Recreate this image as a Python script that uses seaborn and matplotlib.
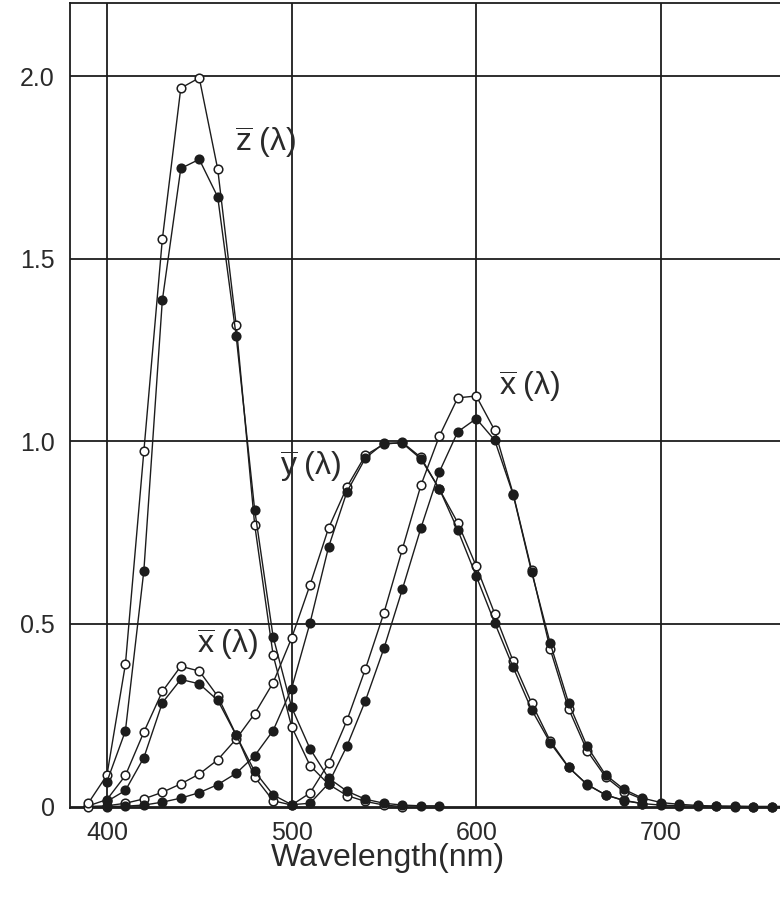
import matplotlib
matplotlib.use("Agg")
import matplotlib.pyplot as plt
import numpy as np
import pandas as pd
import seaborn as sns

# ---- data (CIE colour-matching functions) ----
# open circles: 10-degree observer, 390-690 nm
wl_open = [390, 400, 410, 420, 430, 440, 450, 460, 470, 480, 490, 500, 510, 520,
           530, 540, 550, 560, 570, 580, 590, 600, 610, 620, 630, 640, 650, 660,
           670, 680, 690]
x_open = [0.002, 0.019, 0.085, 0.204, 0.315, 0.384, 0.371, 0.302, 0.196, 0.081,
          0.016, 0.004, 0.037, 0.118, 0.236, 0.377, 0.530, 0.705, 0.879, 1.014,
          1.119, 1.124, 1.030, 0.856, 0.647, 0.432, 0.268, 0.153, 0.081, 0.041,
          0.020]
y_open = [0.000, 0.002, 0.009, 0.021, 0.039, 0.062, 0.089, 0.128, 0.185, 0.254,
          0.339, 0.461, 0.607, 0.762, 0.875, 0.962, 0.992, 0.997, 0.956, 0.869,
          0.777, 0.658, 0.528, 0.398, 0.283, 0.180, 0.108, 0.060, 0.032, 0.016,
          0.008]
wl_open_z = [390, 400, 410, 420, 430, 440, 450, 460, 470, 480, 490, 500, 510,
             520, 530, 540, 550, 560]
z_open = [0.010, 0.086, 0.389, 0.973, 1.553, 1.967, 1.995, 1.745, 1.318, 0.772,
          0.415, 0.219, 0.112, 0.061, 0.030, 0.014, 0.004, 0.000]

# filled circles: 2-degree observer, 400-780 nm
wl_fill = [400, 410, 420, 430, 440, 450, 460, 470, 480, 490, 500, 510, 520, 530,
           540, 550, 560, 570, 580, 590, 600, 610, 620, 630, 640, 650, 660, 670,
           680, 690, 700, 710, 720, 730, 740, 750, 760, 770, 780]
x_fill = [0.014, 0.044, 0.134, 0.284, 0.348, 0.336, 0.291, 0.195, 0.096, 0.032,
          0.005, 0.009, 0.063, 0.166, 0.290, 0.433, 0.595, 0.762, 0.916, 1.026,
          1.062, 1.003, 0.854, 0.642, 0.448, 0.284, 0.165, 0.087, 0.047, 0.023,
          0.011, 0.006, 0.003, 0.001, 0.001, 0.000, 0.000, 0.000, 0.000]
y_fill = [0.000, 0.001, 0.004, 0.012, 0.023, 0.038, 0.060, 0.091, 0.139, 0.208,
          0.323, 0.503, 0.710, 0.862, 0.954, 0.995, 0.995, 0.952, 0.870, 0.757,
          0.631, 0.503, 0.381, 0.265, 0.175, 0.107, 0.061, 0.032, 0.017, 0.008,
          0.004, 0.002, 0.001, 0.001, 0.000, 0.000, 0.000, 0.000, 0.000]
wl_fill_z = [400, 410, 420, 430, 440, 450, 460, 470, 480, 490, 500, 510, 520,
             530, 540, 550, 560, 570, 580]
z_fill = [0.068, 0.207, 0.646, 1.386, 1.747, 1.772, 1.669, 1.288, 0.813, 0.465,
          0.272, 0.158, 0.078, 0.042, 0.020, 0.009, 0.004, 0.002, 0.002]

x_ticks = [400, 500, 600, 700]
y_ticks = [0, 0.5, 1.0, 1.5, 2.0]
y_ticklabels = ["0", "0.5", "1.0", "1.5", "2.0"]
x_label = "Wavelength(nm)"
curve_labels = [
    (r"$\overline{\mathrm{z}}\;(\lambda)$", 486, 1.82),
    (r"$\overline{\mathrm{x}}\;(\lambda)$", 629, 1.15),
    (r"$\overline{\mathrm{y}}\;(\lambda)$", 510, 0.93),
    (r"$\overline{\mathrm{x}}\;(\lambda)$", 465, 0.445),
]

# ---- style ----
sns.set_theme(style="white")
plt.rcParams["font.family"] = ["Liberation Sans", "DejaVu Sans"]
plt.rcParams["mathtext.fontset"] = "custom"
plt.rcParams["mathtext.rm"] = "Liberation Sans"
plt.rcParams["mathtext.it"] = "Liberation Sans"
plt.rcParams["mathtext.default"] = "regular"

ink = "#1c1c1c"
fig = plt.figure(figsize=(7.8, 9.05), dpi=100)
ax = fig.add_axes([70 / 780, 1 - 808 / 905, 1 - 70 / 780, 805 / 905])

curves = [
    (wl_open, x_open, "open"), (wl_open, y_open, "open"), (wl_open_z, z_open, "open"),
    (wl_fill, x_fill, "fill"), (wl_fill, y_fill, "fill"), (wl_fill_z, z_fill, "fill"),
]
for wl, vals, kind in curves:
    df = pd.DataFrame({"wl": wl, "val": vals})
    sns.lineplot(data=df, x="wl", y="val", ax=ax, color=ink, linewidth=1.0,
                 marker="o", markersize=6.2,
                 markerfacecolor="white" if kind == "open" else ink,
                 markeredgecolor=ink, markeredgewidth=1.1,
                 sort=False, estimator=None, clip_on=False, zorder=3)

ax.set_xlim(380, 764.5)
ax.set_ylim(-0.004, 2.2)
ax.set_xticks(x_ticks)
ax.set_yticks(y_ticks)
ax.set_yticklabels(y_ticklabels)
ax.grid(True, color=ink, linewidth=1.3)
ax.set_axisbelow(True)
ax.tick_params(axis="both", length=0, labelsize=18, labelcolor="#2a2a2a")
ax.tick_params(axis="y", pad=11)
ax.tick_params(axis="x", pad=9)
ax.set_xlabel("")
ax.set_ylabel("")
for side in ["left", "bottom", "top"]:
    ax.spines[side].set_color(ink)
    ax.spines[side].set_linewidth(1.3)
ax.spines["right"].set_visible(False)

for txt, xx, yy in curve_labels:
    ax.text(xx, yy, txt, fontsize=23, ha="center", va="center", color="#2a2a2a",
            zorder=5)

fig.text(388 / 780, 1 - 858 / 905, x_label, fontsize=23, ha="center",
         va="center", color="#2a2a2a")

fig.savefig("out.png", dpi=100)
